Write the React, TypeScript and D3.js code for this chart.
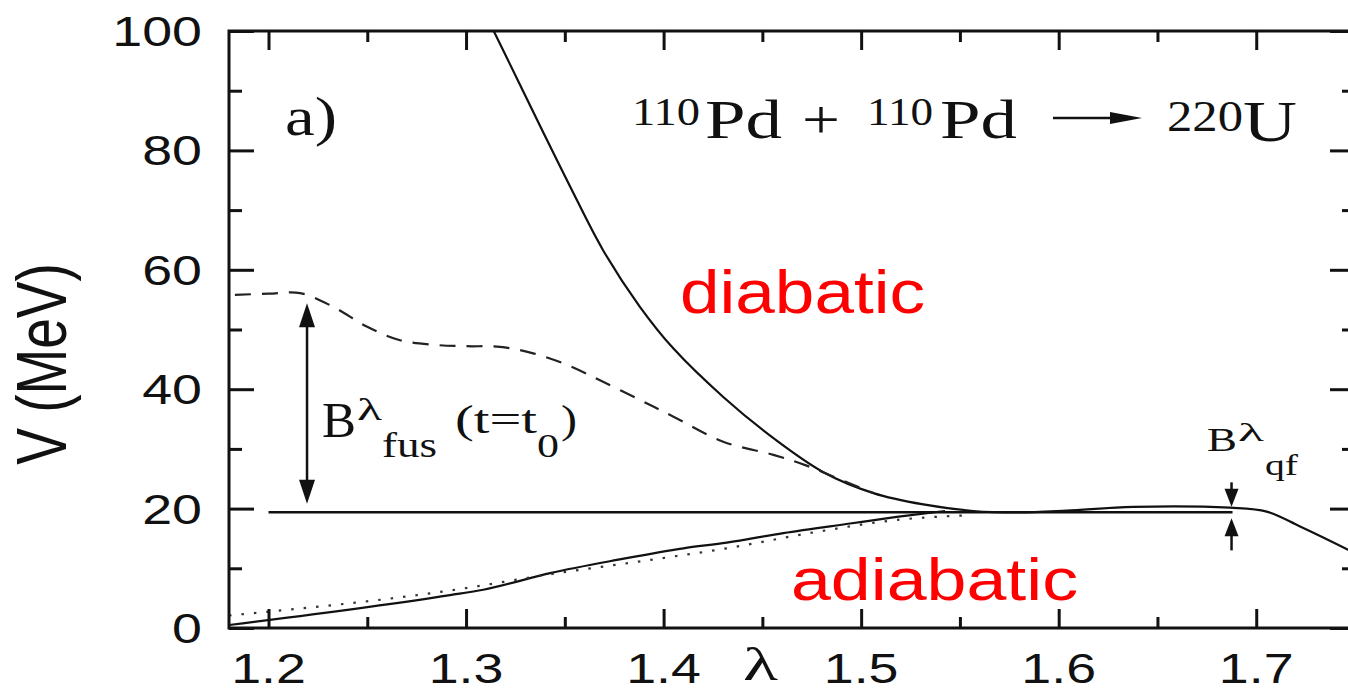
import React, { useEffect, useRef } from "react";
import * as d3 from "d3";

const W = 1348;
const H = 692;
const PLOT = { left: 229, right: 1355, top: 31, bottom: 628 };

const X_DOMAIN: [number, number] = [1.18, 1.75];
const Y_DOMAIN: [number, number] = [0, 100];

const xTicksMajor = [1.2, 1.3, 1.4, 1.5, 1.6, 1.7];
const xTicksMinor = [1.25, 1.35, 1.45, 1.55, 1.65];
const yTicksMajor = [0, 20, 40, 60, 80, 100];
const yTicksMinor = [10, 30, 50, 70, 90];
const xTickLabels = ["1.2", "1.3", "1.4", "1.5", "1.6", "1.7"];
const yTickLabels = ["0", "20", "40", "60", "80", "100"];

// diabatic potential (solid)
const diabaticLambda = [1.314, 1.3273, 1.3391, 1.3526, 1.3695, 1.388, 1.405, 1.4302, 1.4556, 1.4809, 1.5062, 1.5315, 1.5568, 1.58, 1.604, 1.6378, 1.6867, 1.7053, 1.7222, 1.7465, 1.75];
const diabaticV = [100, 91.0, 83.0, 74.0, 63.2, 53.8, 46.8, 38.7, 31.8, 26.1, 22.6, 20.7, 19.6, 19.35, 19.65, 20.3, 20.15, 19.5, 17.0, 13.1, 12.5];

// potential at t = t0 (dashed)
const initialLambda = [1.183, 1.2, 1.216, 1.2328, 1.2497, 1.2666, 1.285, 1.3003, 1.3172, 1.334, 1.351, 1.3678, 1.388, 1.405, 1.4302, 1.4556, 1.4724, 1.4893, 1.5062];
const initialV = [55.8, 56.0, 56.1, 53.8, 50.5, 48.2, 47.4, 47.2, 47.1, 46.0, 44.1, 41.5, 38.2, 35.4, 31.2, 29.0, 27.2, 24.9, 22.6];

// adiabatic potential (solid)
const adiabaticLambda = [1.18, 1.2919, 1.3087, 1.3425, 1.3763, 1.41, 1.432, 1.4606, 1.4944, 1.518, 1.5425];
const adiabaticV = [0.5, 5.5, 6.4, 9.2, 11.4, 13.35, 14.3, 15.9, 17.5, 18.6, 19.6];

// adiabatic estimate (dotted)
const adiabaticFitLambda = [1.18, 1.2913, 1.3425, 1.3931, 1.432, 1.4775, 1.518, 1.555];
const adiabaticFitV = [2.1, 6.25, 9.0, 11.4, 13.35, 16.1, 18.1, 18.9];

// fusion barrier reference level
const barrierLambda = [1.2, 1.688];
const barrierV = [19.4, 19.4];

// barrier arrows
const fusArrow = { lambda: 1.2195, top: 54.4, bottom: 20.8 };
const qfArrow = { lambda: 1.6875, upperFrom: 24.4, upperTo: 20.3, lowerFrom: 13.0, lowerTo: 18.4 };

const zip = (a: number[], b: number[]) => a.map((v, i) => [v, b[i]] as [number, number]);

const SANS = "'Liberation Sans', Arial, Helvetica, sans-serif";
const SERIF = "'Liberation Serif', 'Times New Roman', Times, serif";

function labelWidth(s: string, fs: number) {
  let w = 0;
  for (const c of s) w += c === "." ? 0.278 : 0.556;
  return w * fs * 1.28;
}

export default function App() {
  const axesRef = useRef<SVGGElement | null>(null);

  const x = d3.scaleLinear().domain(X_DOMAIN).range([PLOT.left, PLOT.right]);
  const y = d3.scaleLinear().domain(Y_DOMAIN).range([PLOT.bottom, PLOT.top]);

  const smooth = d3
    .line<[number, number]>()
    .x((d) => x(d[0]))
    .y((d) => y(d[1]))
    .curve(d3.curveMonotoneX);

  const rounded = d3
    .line<[number, number]>()
    .x((d) => x(d[0]))
    .y((d) => y(d[1]))
    .curve(d3.curveCatmullRom.alpha(0.5));

  useEffect(() => {
    const g = d3.select(axesRef.current);
    g.selectAll("*").remove();

    const style = (sel: d3.Selection<SVGGElement, unknown, null, undefined>) => {
      sel.select(".domain").remove();
      sel.selectAll("text").remove();
      sel.selectAll("line").attr("stroke", "#111").attr("stroke-width", 3);
    };

    const add = (axis: d3.Axis<d3.NumberValue>, tx: number, ty: number) => {
      const s = g.append("g").attr("transform", `translate(${tx},${ty})`).call(axis as any);
      style(s as any);
    };

    add(d3.axisLeft(y).tickValues(yTicksMajor).tickSize(-25).tickSizeOuter(0), PLOT.left, 0);
    add(d3.axisLeft(y).tickValues(yTicksMinor).tickSize(-13).tickSizeOuter(0), PLOT.left, 0);
    add(d3.axisRight(y).tickValues(yTicksMajor).tickSize(-25).tickSizeOuter(0), PLOT.right, 0);
    add(d3.axisRight(y).tickValues(yTicksMinor).tickSize(-13).tickSizeOuter(0), PLOT.right, 0);
    add(d3.axisBottom(x).tickValues(xTicksMajor).tickSize(-19).tickSizeOuter(0), 0, PLOT.bottom);
    add(d3.axisBottom(x).tickValues(xTicksMinor).tickSize(-11).tickSizeOuter(0), 0, PLOT.bottom);
    add(d3.axisTop(x).tickValues(xTicksMajor).tickSize(-19).tickSizeOuter(0), 0, PLOT.top);
    add(d3.axisTop(x).tickValues(xTicksMinor).tickSize(-11).tickSizeOuter(0), 0, PLOT.top);
  }, []);

  const head = (px: number, py: number, dir: 1 | -1, len = 24, half = 8) =>
    `${px},${py} ${px - half},${py - dir * len} ${px + half},${py - dir * len}`;

  const fx = x(fusArrow.lambda);
  const fTop = y(fusArrow.top);
  const fBot = y(fusArrow.bottom);
  const qx = x(qfArrow.lambda);

  const arrowY = 118;

  return (
    <svg width={W} height={H} style={{ position: "absolute", left: 0, top: 0, background: "#fff" }}>
      <rect x={0} y={0} width={W} height={H} fill="#fff" />

      {/* curves */}
      <path d={rounded(zip(diabaticLambda, diabaticV)) || ""} fill="none" stroke="#111" strokeWidth={2.2} />
      <path d={rounded(zip(initialLambda, initialV)) || ""} fill="none" stroke="#222" strokeWidth={2.2} strokeDasharray="16 11" />
      <path d={smooth(zip(adiabaticLambda, adiabaticV)) || ""} fill="none" stroke="#111" strokeWidth={2.2} />
      <path d={smooth(zip(adiabaticFitLambda, adiabaticFitV)) || ""} fill="none" stroke="#333" strokeWidth={2.2} strokeDasharray="2.5 10" />
      <path d={smooth(zip(barrierLambda, barrierV)) || ""} fill="none" stroke="#111" strokeWidth={2.4} />

      {/* frame and ticks */}
      <rect x={PLOT.left} y={PLOT.top} width={PLOT.right - PLOT.left} height={PLOT.bottom - PLOT.top} fill="none" stroke="#111" strokeWidth={3} />
      <g ref={axesRef} />

      {/* tick labels */}
      {yTicksMajor.map((v, i) => (
        <text key={"yl" + v} x={202} y={y(v) + 15} fontFamily={SANS} fontSize={42} textAnchor="end" fill="#111"
          textLength={labelWidth(yTickLabels[i], 42)} lengthAdjust="spacingAndGlyphs">
          {yTickLabels[i]}
        </text>
      ))}
      {xTicksMajor.map((v, i) => (
        <text key={"xl" + v} x={x(v)} y={PLOT.bottom + 55} fontFamily={SANS} fontSize={42} textAnchor="middle" fill="#111"
          textLength={labelWidth(xTickLabels[i], 42)} lengthAdjust="spacingAndGlyphs">
          {xTickLabels[i]}
        </text>
      ))}

      {/* axis titles */}
      <text x={743} y={680} fontFamily={SERIF} fontSize={46} fill="#111" textLength={35} lengthAdjust="spacingAndGlyphs">λ</text>
      <g transform={`translate(66,364) scale(1.28,1) rotate(-90)`}>
        <text x={0} y={0} fontFamily={SANS} fontSize={55} textAnchor="middle" fill="#111">V (MeV)</text>
      </g>

      {/* panel label */}
      <text x={285} y={135} fontFamily={SERIF} fontSize={54} fill="#111" textLength={52} lengthAdjust="spacingAndGlyphs">a)</text>

      {/* reaction */}
      <g fontFamily={SERIF} fill="#111">
        <text x={632} y={125} fontSize={41} textLength={68} lengthAdjust="spacingAndGlyphs">110</text>
        <text x={705} y={138} fontSize={54} textLength={77} lengthAdjust="spacingAndGlyphs">Pd</text>
        <text x={802} y={138} fontSize={54} textLength={38} lengthAdjust="spacingAndGlyphs">+</text>
        <text x={867} y={125} fontSize={41} textLength={66} lengthAdjust="spacingAndGlyphs">110</text>
        <text x={940} y={138} fontSize={54} textLength={77} lengthAdjust="spacingAndGlyphs">Pd</text>
        <text x={1167} y={131} fontSize={44} textLength={76} lengthAdjust="spacingAndGlyphs">220</text>
        <text x={1243} y={141} fontSize={56} textLength={54} lengthAdjust="spacingAndGlyphs">U</text>
      </g>
      <line x1={1053} y1={arrowY} x2={1115} y2={arrowY} stroke="#111" strokeWidth={2.5} />
      <polygon points={`1142,${arrowY} 1110,${arrowY - 6} 1110,${arrowY + 6}`} fill="#111" />

      {/* fusion barrier arrow */}
      <line x1={fx} y1={fTop + 20} x2={fx} y2={fBot - 20} stroke="#111" strokeWidth={2.5} />
      <polygon points={head(fx, fTop, -1)} fill="#111" />
      <polygon points={head(fx, fBot, 1)} fill="#111" />
      <g fontFamily={SERIF} fill="#111">
        <text x={322} y={437} fontSize={50} textLength={34} lengthAdjust="spacingAndGlyphs">B</text>
        <text x={357} y={420} fontSize={32} textLength={25} lengthAdjust="spacingAndGlyphs">λ</text>
        <text x={382} y={457} fontSize={36} textLength={55} lengthAdjust="spacingAndGlyphs">fus</text>
        <text x={455} y={433} fontSize={40} textLength={82} lengthAdjust="spacingAndGlyphs">(t=t</text>
        <text x={537} y={457} fontSize={34} textLength={22} lengthAdjust="spacingAndGlyphs">0</text>
        <text x={561} y={433} fontSize={40} textLength={16} lengthAdjust="spacingAndGlyphs">)</text>
      </g>

      {/* quasi-fission barrier arrows */}
      <line x1={qx} y1={y(qfArrow.upperFrom)} x2={qx} y2={y(qfArrow.upperTo) - 14} stroke="#111" strokeWidth={2.5} />
      <polygon points={head(qx, y(qfArrow.upperTo), 1, 18, 7)} fill="#111" />
      <line x1={qx} y1={y(qfArrow.lowerFrom)} x2={qx} y2={y(qfArrow.lowerTo) + 14} stroke="#111" strokeWidth={2.5} />
      <polygon points={head(qx, y(qfArrow.lowerTo), -1, 18, 7)} fill="#111" />
      <g fontFamily={SERIF} fill="#111">
        <text x={1207} y={451} fontSize={33} textLength={30} lengthAdjust="spacingAndGlyphs">B</text>
        <text x={1238} y={441} fontSize={26} textLength={26} lengthAdjust="spacingAndGlyphs">λ</text>
        <text x={1265} y={475} fontSize={30} textLength={33} lengthAdjust="spacingAndGlyphs">qf</text>
      </g>

      {/* regime labels */}
      <text x={680} y={313} fontFamily={SANS} fontSize={62} fill="#ff0000" textLength={245} lengthAdjust="spacingAndGlyphs">diabatic</text>
      <text x={791} y={600} fontFamily={SANS} fontSize={60} fill="#ff0000" textLength={287} lengthAdjust="spacingAndGlyphs">adiabatic</text>
    </svg>
  );
}
